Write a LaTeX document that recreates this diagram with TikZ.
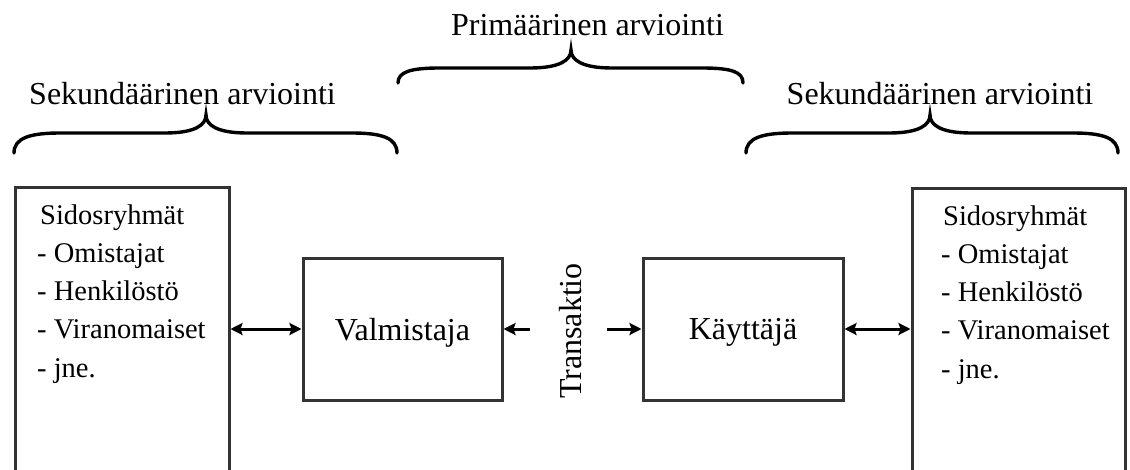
\documentclass[tikz,border=0pt]{standalone}
\usepackage{fontspec}
\setmainfont{Liberation Serif}
\usetikzlibrary{arrows.meta}
\begin{document}
\begin{tikzpicture}[x=1pt,y=-1pt,
  box/.style={draw=black!80,line width=3pt,inner sep=0pt},
  big/.style={font=\fontsize{32}{38}\selectfont,inner sep=0pt},
  item/.style={font=\fontsize{28.5}{34}\selectfont,inner sep=0pt,anchor=base west},
  arr/.style={line width=3pt,-{Stealth[length=12pt,width=12pt,inset=2pt]}},
  darr/.style={line width=3pt,{Stealth[length=12pt,width=12pt,inset=2pt]}-{Stealth[length=12pt,width=12pt,inset=2pt]}},
  brace/.style={line width=3.4pt,line cap=round}]
\useasboundingbox (0,0) rectangle (1130,469);
\clip (0,0) rectangle (1130,469);
% boxes
\node[box,minimum width=214pt,minimum height=305pt] (lbox) at (122,339.5) {};
\node[box,minimum width=213pt,minimum height=305pt] (rbox) at (1018.5,340.5) {};
\node[box,big,text depth=0pt,minimum width=199pt,minimum height=142pt] (valm) at (402.5,329) {Valmistaja};
\node[box,big,text depth=0pt,minimum width=200pt,minimum height=142pt] (kay) at (743,329) {Käyttäjä};
% left list
\node[item] (l1) at (40,224) {Sidosryhmät};
\node[item] (l2) at (37,262) {- Omistajat};
\node[item] (l3) at (37,300.5) {- Henkilöstö};
\node[item] (l4) at (37,338.5) {- Viranomaiset};
\node[item] (l5) at (37,377) {- jne.};
% right list
\node[item] (r1) at (943,225) {Sidosryhmät};
\node[item] (r2) at (941,263) {- Omistajat};
\node[item] (r3) at (941,301.5) {- Henkilöstö};
\node[item] (r4) at (941,339.5) {- Viranomaiset};
\node[item] (r5) at (941,378) {- jne.};
% arrows
\draw[darr] (lbox.east |- valm.west) -- (valm.west);
\draw[darr] (kay.east) -- (rbox.west |- kay.east);
\coordinate (tl) at (530,329);
\coordinate (tr) at (607,329);
\draw[arr] (tl) -- (valm.east);
\draw[arr] (tr) -- (kay.west);
\node[big,rotate=90,anchor=base] (trans) at (581,331) {Transaktio};
% headings
\node[big,anchor=base] (h1) at (182.5,104) {Sekundäärinen arviointi};
\node[big,anchor=base] (h2) at (587.5,35) {Primäärinen arviointi};
\node[big,anchor=base] (h3) at (940,104) {Sekundäärinen arviointi};
% braces
\draw[brace] (14,153) .. controls (14,138) and (30,133) .. (60,133) -- (165,133)
  .. controls (195,133) and (206,125) .. (206,115)
  .. controls (206,125) and (217,133) .. (247,133) -- (352,133)
  .. controls (382,133) and (397,138) .. (397,153);
\draw[brace] (398,83) .. controls (398,72) and (410,68) .. (440,68) -- (530,68)
  .. controls (560,68) and (571,60) .. (571,50)
  .. controls (571,60) and (582,68) .. (612,68) -- (702,68)
  .. controls (732,68) and (743,72) .. (743,83);
\draw[brace] (746,153) .. controls (746,138) and (762,133) .. (792,133) -- (889,133)
  .. controls (919,133) and (930,125) .. (930,115)
  .. controls (930,125) and (941,133) .. (971,133) -- (1073,133)
  .. controls (1103,133) and (1118,138) .. (1118,153);
\end{tikzpicture}
\end{document}
